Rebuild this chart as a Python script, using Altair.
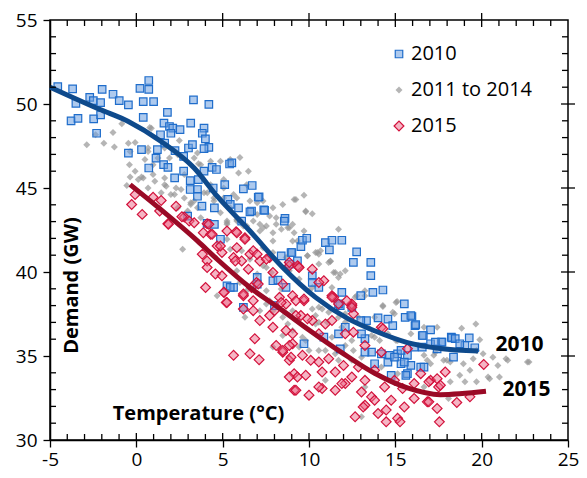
import altair as alt
import pandas as pd

# ---------------- data ----------------
series_names = ["2010", "2011 to 2014", "2015"]

pts_2010 = [
    (-4.55, 51.03), (-3.69, 50.9), (-3.5, 50.04), (-3.78, 49.0), (-3.38, 49.15), (-2.7, 50.4),
    (-2.49, 50.2), (-2.07, 50.08), (-2.47, 49.12), (-2.07, 49.35), (-2.3, 48.26), (-1.98, 50.87),
    (-1.35, 50.58), (-0.99, 50.2), (-0.46, 49.95), (-0.46, 47.08), (0.21, 50.93), (0.72, 51.4),
    (0.72, 50.87), (0.4, 50.14), (1.0, 50.14), (3.31, 50.24), (4.2, 49.98), (0.4, 49.2),
    (1.8, 49.5), (1.6, 48.86), (1.92, 48.66), (2.11, 48.56), (2.53, 48.47), (3.15, 48.86),
    (3.92, 48.56), (3.82, 48.26), (1.4, 48.17), (2.0, 48.26), (4.0, 47.93), (4.2, 47.42),
    (3.92, 47.34), (3.02, 47.38), (3.25, 47.58), (1.64, 47.67), (1.22, 47.28), (0.3, 47.28),
    (2.24, 47.22), (2.74, 46.88), (1.14, 46.78), (0.72, 46.19), (1.58, 46.39), (1.83, 46.23),
    (3.92, 46.0), (4.39, 46.23), (4.64, 46.1), (5.4, 46.43), (5.53, 46.49), (2.22, 45.6),
    (2.74, 46.0), (3.12, 45.44), (3.59, 45.5), (3.12, 44.91), (3.54, 44.91), (3.54, 44.51),
    (4.45, 45.0), (5.12, 45.2), (6.2, 44.95), (6.71, 45.15), (7.11, 44.48), (5.3, 44.32),
    (3.8, 43.92), (4.52, 43.82), (5.44, 44.02), (5.92, 43.82), (6.67, 43.63), (7.38, 43.7),
    (8.61, 43.19), (6.1, 43.03), (4.1, 42.9), (4.52, 42.84), (2.97, 43.33), (7.06, 44.45),
    (7.43, 43.67), (6.58, 43.58), (4.87, 41.95), (5.25, 39.18), (5.63, 39.08), (6.2, 37.9),
    (7.0, 39.68), (7.0, 39.28), (7.91, 39.48), (8.2, 39.52), (8.39, 40.96), (8.96, 41.16),
    (8.67, 39.08), (8.86, 40.47), (8.57, 43.03), (9.53, 41.51), (9.62, 41.89), (9.87, 42.01),
    (10.95, 41.75), (11.33, 41.89), (11.9, 41.89), (11.18, 41.32), (12.76, 41.2), (12.57, 40.57),
    (13.58, 40.57), (13.58, 39.79), (10.19, 39.77), (10.19, 39.38), (9.01, 41.16), (9.33, 40.66),
    (10.57, 39.08), (11.9, 38.79), (13.0, 38.59), (13.7, 38.79), (14.28, 38.93), (15.52, 38.1),
    (15.57, 37.3), (15.96, 37.35), (16.14, 36.81), (17.04, 36.56), (16.62, 36.22), (17.66, 35.82),
    (18.24, 36.12), (14.57, 37.2), (14.0, 37.27), (14.85, 36.81), (13.33, 37.11), (13.0, 37.11),
    (12.1, 36.71), (12.48, 37.9), (11.81, 38.0), (11.71, 38.1), (8.0, 38.0), (5.44, 39.08),
    (13.24, 36.03), (13.62, 35.23), (13.24, 35.23), (14.19, 35.13), (14.66, 35.04), (15.13, 35.13),
    (15.7, 35.04), (14.57, 34.64), (15.33, 34.54), (15.9, 34.44), (16.47, 34.34), (13.8, 34.54),
    (14.76, 33.85), (15.7, 33.95), (11.81, 35.43), (10.86, 36.12), (9.71, 35.73), (11.71, 36.32),
    (13.04, 36.32), (16.56, 35.53), (17.04, 35.73), (16.09, 35.53), (17.42, 35.43), (15.9, 37.41),
    (16.18, 36.87), (18.27, 36.08), (18.47, 36.03), (19.28, 36.08), (19.03, 35.63), (19.6, 35.49),
    (18.73, 35.73), (17.7, 35.82), (17.32, 35.82), (16.56, 36.22), (15.33, 35.33), (15.52, 34.64),
    (14.95, 34.93), (18.37, 34.93), (16.66, 34.34), (15.61, 33.85),
]

pts_2011_2014 = [
    (-2.87, 47.58), (-2.36, 48.17), (-1.88, 47.67), (-1.35, 48.31), (-1.27, 47.44), (-0.84, 48.82),
    (-0.55, 45.15), (-0.4, 46.39), (-0.07, 47.71), (-0.36, 45.66), (0.3, 45.66), (0.87, 48.56),
    (0.5, 46.69), (1.25, 46.78), (1.64, 47.38), (2.0, 44.61), (1.64, 45.6), (2.4, 46.98),
    (2.78, 45.8), (3.15, 44.02), (3.54, 47.08), (4.3, 46.59), (4.87, 46.59), (5.44, 46.69),
    (6.0, 46.82), (4.3, 45.2), (5.06, 45.0), (5.44, 43.82), (6.58, 44.22), (7.34, 44.22),
    (8.48, 44.02), (8.1, 43.23), (8.86, 42.64), (7.34, 42.64), (2.49, 47.83), (3.35, 46.78),
    (3.6, 46.45), (5.92, 45.89), (6.49, 46.0), (5.06, 45.5), (3.63, 45.89), (1.92, 46.78),
    (-0.07, 46.0), (0.4, 45.6), (0.97, 45.8), (1.64, 45.2), (2.3, 45.0), (2.78, 44.41),
    (3.35, 44.22), (4.49, 44.41), (5.82, 44.41), (7.91, 43.82), (9.14, 44.32), (9.05, 42.84),
    (7.53, 42.74), (0.68, 47.18), (0.78, 48.6), (-0.46, 47.67), (-0.36, 47.18), (0.11, 45.5),
    (0.68, 45.0), (1.44, 44.71), (3.92, 44.71), (2.68, 41.36), (5.25, 43.03), (6.2, 42.74),
    (6.77, 43.03), (7.15, 42.44), (8.4, 42.55), (9.05, 41.85), (7.91, 41.85), (7.34, 41.45),
    (7.91, 41.16), (7.53, 40.27), (8.67, 40.86), (8.86, 40.07), (4.68, 38.59), (6.0, 39.38),
    (6.39, 38.89), (6.29, 37.3), (7.15, 37.7), (7.53, 38.1), (7.91, 37.7), (8.48, 37.3),
    (8.77, 36.91), (7.91, 35.53), (8.48, 36.22), (9.05, 36.52), (5.25, 41.95), (9.24, 44.32),
    (9.71, 44.57), (9.81, 43.58), (10.19, 43.47), (8.77, 42.64), (9.71, 42.44), (9.33, 41.85),
    (10.38, 41.16), (10.67, 41.26), (9.91, 40.96), (10.57, 40.47), (11.24, 40.62), (11.71, 42.54),
    (11.52, 39.97), (11.71, 39.68), (12.76, 38.59), (13.24, 38.59), (14.28, 37.94), (15.04, 38.19),
    (13.8, 37.3), (12.1, 37.51), (11.14, 37.6), (10.19, 37.8), (9.33, 37.21), (10.57, 37.01),
    (11.9, 36.71), (13.43, 36.71), (11.33, 36.12), (12.48, 35.92), (13.8, 36.12), (15.13, 35.92),
    (15.9, 36.32), (16.66, 36.71), (17.42, 36.71), (17.8, 34.74), (17.04, 34.54), (16.66, 35.04),
    (18.18, 34.64), (11.52, 35.13), (10.57, 35.33), (9.81, 35.92), (9.43, 35.53), (12.48, 34.74),
    (14.19, 34.34), (15.13, 33.95), (10.95, 33.55), (13.24, 33.16), (16.66, 33.16), (17.32, 35.23),
    (13.04, 31.38), (15.1, 38.25), (19.66, 36.91), (18.84, 36.65), (19.89, 35.96), (19.7, 35.33),
    (20.08, 35.13), (19.51, 34.84), (20.65, 34.93), (20.94, 34.44), (21.51, 34.74), (21.03, 33.75),
    (22.65, 34.64), (20.46, 33.65), (19.32, 34.15), (18.73, 33.85), (18.94, 34.54), (19.03, 33.46),
    (19.7, 33.46), (18.18, 33.46), (18.08, 32.47), (17.99, 34.74), (17.23, 35.04), (16.85, 34.74),
    (15.04, 35.92), (14.95, 37.51), (21.41, 34.84), (22.74, 34.64), (20.37, 33.75), (9.81, 43.63),
    (7.72, 43.33), (8.1, 42.84), (7.15, 42.84), (7.91, 42.34), (9.14, 42.34), (10.48, 41.16),
    (11.24, 40.66), (11.43, 39.97), (9.43, 39.58), (7.82, 39.97), (7.34, 40.37), (7.0, 39.88),
    (8.39, 38.99), (7.53, 38.89), (7.72, 38.29), (5.82, 40.07), (5.44, 41.36), (6.1, 41.26),
    (6.58, 40.76), (5.25, 42.84), (5.82, 43.03), (9.05, 37.7), (10.0, 38.89), (10.57, 37.9),
    (11.05, 37.01), (10.38, 36.91), (9.91, 40.96), (10.57, 41.06), (11.14, 40.56), (11.81, 39.88),
    (12.1, 40.07), (10.19, 39.08), (11.33, 39.08), (12.67, 38.49), (13.24, 38.89), (14.28, 38.0),
    (14.85, 37.6), (10.76, 37.8), (10.38, 37.41), (11.71, 37.3), (12.1, 37.01), (12.86, 37.3),
    (13.62, 36.22), (14.09, 35.92), (14.57, 36.32), (9.62, 36.12), (10.0, 35.33), (10.95, 35.33),
    (12.1, 35.63), (12.57, 35.33), (11.71, 34.74), (13.04, 34.93), (3.73, 46.39), (2.59, 44.91),
    (2.21, 44.61), (1.07, 45.4), (1.73, 45.1), (4.11, 44.71), (4.49, 44.22), (5.06, 44.41),
    (5.63, 44.61), (6.39, 45.2), (7.0, 44.12), (5.82, 43.13), (5.25, 42.93), (6.39, 42.74),
    (3.54, 43.82), (2.97, 43.63), (2.4, 43.82), (3.73, 43.23), (3.15, 44.12), (4.87, 43.53),
    (7.0, 43.43), (0.97, 46.39), (0.68, 47.38),
]

pts_2015 = [
    (-0.27, 44.02), (0.34, 43.43), (-0.07, 44.61), (0.97, 44.45), (1.44, 44.26), (1.83, 42.87),
    (2.3, 43.92), (2.78, 43.27), (3.06, 43.03), (3.35, 42.93), (4.1, 42.87), (3.88, 42.34),
    (4.3, 42.24), (5.25, 42.44), (5.78, 42.4), (6.29, 42.04), (1.35, 43.63), (2.64, 43.29),
    (4.2, 42.84), (1.86, 42.84), (4.39, 42.24), (5.82, 42.34), (4.68, 41.55), (4.96, 41.16),
    (3.82, 41.06), (4.1, 40.66), (4.1, 40.27), (4.58, 39.88), (4.96, 39.77), (4.01, 39.08),
    (5.09, 38.79), (5.21, 38.19), (6.2, 38.59), (6.67, 39.08), (6.77, 38.29), (6.2, 37.8),
    (6.96, 39.38), (5.63, 40.86), (6.1, 40.66), (6.58, 41.06), (6.77, 41.26), (7.15, 40.66),
    (7.72, 40.86), (7.91, 39.97), (7.15, 37.11), (7.72, 37.41), (7.91, 36.71), (6.86, 36.03),
    (5.63, 35.04), (6.58, 35.13), (7.11, 34.78), (8.1, 35.63), (8.48, 35.23), (8.86, 34.74),
    (9.14, 33.95), (9.14, 32.96), (9.05, 35.73), (8.67, 38.1), (9.05, 38.59), (8.29, 38.49),
    (8.48, 39.28), (9.39, 40.31), (10.19, 40.17), (10.86, 39.48), (10.57, 39.38), (9.71, 38.29),
    (11.43, 38.49), (11.71, 38.1), (12.48, 38.0), (12.57, 37.51), (9.53, 37.41), (10.19, 37.11),
    (10.95, 36.91), (11.33, 37.11), (12.1, 36.32), (12.57, 36.42), (8.67, 36.52), (9.05, 36.32),
    (10.57, 36.32), (14.19, 36.71), (13.24, 35.63), (14.19, 35.23), (15.7, 35.43), (8.86, 35.63),
    (8.96, 34.93), (9.62, 35.04), (10.1, 34.74), (10.57, 34.64), (11.14, 34.84), (10.76, 34.05),
    (9.81, 33.85), (9.33, 33.75), (11.52, 34.05), (12.0, 34.44), (12.86, 34.34), (13.8, 34.15),
    (12.48, 33.75), (13.24, 33.55), (12.1, 33.36), (11.52, 32.96), (10.76, 33.06), (9.24, 32.96),
    (10.0, 32.67), (13.04, 32.86), (13.62, 32.57), (14.38, 33.16), (14.95, 33.55), (15.42, 33.06),
    (16.09, 33.36), (16.47, 33.95), (17.04, 33.55), (17.51, 33.16), (17.89, 34.05), (16.85, 32.27),
    (17.42, 31.88), (14.47, 31.78), (12.67, 31.38), (15.13, 31.29), (15.52, 31.97), (14.76, 32.37),
    (16.09, 32.47), (13.24, 32.07), (14.0, 31.58), (8.86, 40.37), (9.34, 40.37), (11.33, 38.59),
    (12.48, 38.1), (14.28, 36.62), (17.42, 33.65), (20.12, 34.5), (18.56, 32.23), (19.32, 32.57),
    (16.94, 32.27), (17.55, 31.08), (15.27, 31.08), (14.47, 31.08), (10.57, 33.16), (11.9, 33.36),
    (13.14, 31.97), (13.8, 32.37), (8.86, 33.75), (8.48, 35.33), (17.61, 33.26), (16.94, 33.46),
    (6.29, 41.95), (4.87, 41.55), (5.82, 41.45), (7.0, 41.06), (7.53, 40.76), (6.49, 40.17),
    (5.73, 40.66), (8.86, 40.57), (9.43, 40.27), (9.71, 38.4), (9.24, 38.29), (11.33, 38.49),
    (8.39, 38.19), (6.2, 38.69), (7.06, 39.28), (5.06, 38.79), (5.25, 38.19), (6.77, 37.7),
    (8.0, 37.7), (9.24, 37.41), (9.91, 37.21), (12.19, 38.29), (12.48, 37.9),
]

fit_2010_x = [-5.0, -2.17, -0.46, 1.44, 3.35, 4.68, 6.58, 8.48, 10.38, 12.28, 13.8, 15.7, 17.6, 19.8]
fit_2010_y = [51.0, 49.7, 48.96, 47.77, 46.19, 44.51, 42.44, 40.27, 38.49, 37.21, 36.5, 35.8, 35.45, 35.3]
fit_2015_x = [-0.36, 3.54, 4.68, 6.58, 8.48, 10.0, 11.9, 13.8, 15.7, 17.6, 20.25]
fit_2015_y = [45.2, 41.85, 40.76, 39.08, 37.7, 36.55, 35.2, 33.97, 33.1, 32.7, 32.9]

end_labels = ["2010", "2015"]
end_label_x = [20.8, 21.2]
end_label_y = [35.63, 32.96]

x_major = [-5, 0, 5, 10, 15, 20, 25]
y_major = [30, 35, 40, 45, 50, 55]

# ---------------- tables ----------------
rows = []
for name, pts in [("2011 to 2014", pts_2011_2014), ("2010", pts_2010), ("2015", pts_2015)]:
    for x, y in pts:
        rows.append({"series": name, "x": x, "y": y})
scatter_df = pd.DataFrame(rows)

fit10 = pd.DataFrame({"x": fit_2010_x, "y": fit_2010_y})
fit15 = pd.DataFrame({"x": fit_2015_x, "y": fit_2015_y})
ann = pd.DataFrame({"label": end_labels, "x": end_label_x, "y": end_label_y})

x_minor = pd.DataFrame({"v": [v for v in range(-4, 25) if v % 5 != 0]})
y_minor = pd.DataFrame({"v": [v for v in range(31, 55) if v % 5 != 0]})
x_inner_major = pd.DataFrame({"v": x_major[1:-1]})
y_inner_major = pd.DataFrame({"v": y_major[1:-1]})

XS = alt.Scale(domain=[-5, 25], nice=False, zero=False)
YS = alt.Scale(domain=[30, 55], nice=False, zero=False)
FONT = "Open Sans"

AX = alt.Axis(values=x_major, title="Temperature (°C)", titleX=148, titleY=-27,
              titleAlign="center", titleBaseline="middle", labelFlush=False,
              labelExpr="'' + datum.value", labelPadding=3)
AY = alt.Axis(values=y_major, title="Demand (GW)", titleX=21, titleY=265, titleAngle=270,
              titleAlign="center", titleBaseline="middle", labelPadding=6)

fills = ["rgba(108,158,224,0.55)", "rgba(150,150,150,0.7)", "rgba(236,108,138,0.5)"]
strokes = ["#1f6dcb", "rgba(0,0,0,0)", "#d3123c"]
shapes = [
    "M-0.75,-0.75H0.75V0.75H-0.75Z",
    "M-0.7,0L0,-0.7L0.7,0L0,0.7Z",
    "M-0.98,0L0,-0.98L0.98,0L0,0.98Z",
]

leg = alt.Legend(
    title=None, orient="none", legendX=339, legendY=24, padding=0,
    labelFont=FONT, labelFontSize=20, labelColor="black", labelOffset=2,
    rowPadding=16, symbolSize=100, symbolStrokeWidth=1.2,
)

points = alt.Chart(scatter_df).mark_point(size=100, opacity=1, strokeWidth=1.2).encode(
    x=alt.X("x:Q", scale=XS, axis=AX),
    y=alt.Y("y:Q", scale=YS, axis=AY),
    fill=alt.Fill("series:N", scale=alt.Scale(domain=series_names, range=fills), legend=leg),
    stroke=alt.Stroke("series:N", scale=alt.Scale(domain=series_names, range=strokes), legend=leg),
    shape=alt.Shape("series:N", scale=alt.Scale(domain=series_names, range=shapes), legend=leg),
)

line10 = alt.Chart(fit10).mark_line(color="#0e4a8c", strokeWidth=5, interpolate="monotone").encode(
    x=alt.X("x:Q", scale=XS, axis=AX), y=alt.Y("y:Q", scale=YS, axis=AY))
line15 = alt.Chart(fit15).mark_line(color="#9a0a26", strokeWidth=5, interpolate="monotone").encode(
    x=alt.X("x:Q", scale=XS, axis=AX), y=alt.Y("y:Q", scale=YS, axis=AY))

labels = alt.Chart(ann).mark_text(align="left", baseline="middle", font=FONT, fontSize=21,
                                  fontWeight="bold", color="black").encode(
    x=alt.X("x:Q", scale=XS, axis=AX), y=alt.Y("y:Q", scale=YS, axis=AY), text="label:N")

TW = 1.3


def xticks(df, yval, **kw):
    return alt.Chart(df).mark_rule(color="black", strokeWidth=TW, **kw).encode(
        x=alt.X("v:Q", scale=XS, axis=AX),
        y=alt.Y(datum=yval, scale=YS, axis=AY), y2=alt.Y2(datum=yval))


def yticks(df, xval, **kw):
    return alt.Chart(df).mark_rule(color="black", strokeWidth=TW, **kw).encode(
        y=alt.Y("v:Q", scale=YS, axis=AY),
        x=alt.X(datum=xval, scale=XS, axis=AX), x2=alt.X2(datum=xval))


ticks = [
    xticks(x_minor, 30, y2Offset=-6),
    xticks(x_minor, 55, y2Offset=6),
    xticks(x_inner_major, 30, y2Offset=-7),
    xticks(x_inner_major, 55, yOffset=-7, y2Offset=7),
    yticks(y_minor, -5, x2Offset=6),
    yticks(y_minor, 25, x2Offset=-6),
    yticks(y_inner_major, 25, xOffset=-7, x2Offset=7),
]

chart = alt.layer(points, line10, line15, labels, *ticks).properties(
    width=518, height=420,
    autosize=alt.AutoSizeParams(type="none"),
    padding={"left": 42, "top": 12, "right": 11, "bottom": 30},
).configure_view(stroke="black", strokeWidth=1.5).configure_axis(
    grid=False, domainColor="black", domainWidth=1.5, tickColor="black", tickWidth=TW,
    tickSize=7, labelColor="black", labelFont=FONT, labelFontSize=19,
    titleFont=FONT, titleFontSize=20, titleFontWeight="bold", titleColor="black",
)

chart.save("out.html", embed_options={"renderer": "svg", "actions": False})
